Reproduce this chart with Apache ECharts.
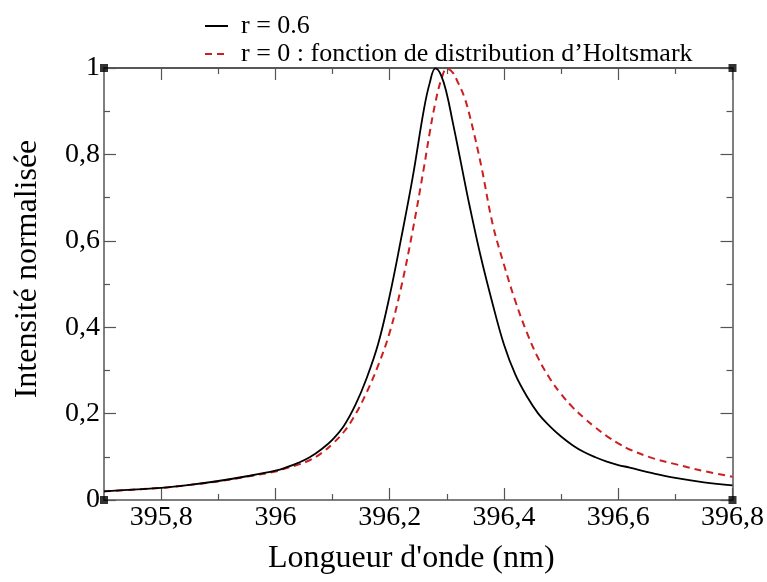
<!DOCTYPE html>
<html>
<head>
<meta charset="utf-8">
<script src="https://cdn.jsdelivr.net/npm/echarts@6/dist/echarts.min.js"></script>
<style>html,body{margin:0;padding:0;background:#fff}#c{width:767px;height:582px}</style>
</head>
<body>
<div id="c"></div>
<script>
// Wavelength (nm)
const wavelengths = [395.70,395.75,395.80,395.85,395.90,395.95,396.00,396.02,396.04,396.06,396.08,396.10,396.12,396.14,396.16,396.18,396.20,396.22,396.24,396.26,396.27,396.28,396.29,396.30,396.31,396.32,396.33,396.34,396.36,396.38,396.40,396.42,396.44,396.46,396.48,396.50,396.52,396.54,396.56,396.58,396.60,396.62,396.66,396.70,396.75,396.80];
// r = 0.6
const intensityR06 = [0.020,0.024,0.028,0.035,0.044,0.055,0.068,0.076,0.086,0.099,0.117,0.140,0.172,0.220,0.283,0.362,0.473,0.605,0.745,0.905,0.965,0.999,0.983,0.940,0.877,0.812,0.745,0.680,0.560,0.455,0.360,0.290,0.240,0.200,0.171,0.147,0.127,0.111,0.099,0.089,0.081,0.075,0.062,0.051,0.041,0.034];
// r = 0 : Holtsmark distribution
const intensityR0 = [0.020,0.024,0.028,0.035,0.043,0.054,0.066,0.074,0.082,0.092,0.108,0.130,0.158,0.198,0.250,0.312,0.388,0.492,0.622,0.770,0.850,0.920,0.972,0.998,0.990,0.965,0.935,0.890,0.775,0.640,0.545,0.460,0.388,0.328,0.282,0.245,0.215,0.190,0.168,0.148,0.131,0.117,0.097,0.083,0.067,0.054];
const xMajorTicks = [395.8,396.0,396.2,396.4,396.6,396.8];
const xMinorTicks = [395.9,396.1,396.3,396.5,396.7];
const corners = [[395.7,0],[395.7,1],[396.8,0],[396.8,1]];
const seriesNames = ['r = 0.6', 'r = 0 : fonction de distribution d\u2019Holtsmark'];

const FONT = 'Liberation Serif';
const fmt = v => String(+(+v).toFixed(2)).replace('.', ',');
const axisCol = '#555';

const chart = echarts.init(document.getElementById('c'), null, {renderer: 'canvas'});
const mkX = (pos, ticks, len, labels, line) => ({
  type: 'value', min: 395.7, max: 396.8, position: pos,
  axisLine: {show: line, lineStyle: {color: pos === 'top' ? '#222' : axisCol, width: 1.5}, onZero: false},
  axisTick: {show: true, inside: true, length: len, customValues: ticks, lineStyle: {color: axisCol, width: 1.2}},
  axisLabel: labels ? {show: true, customValues: ticks, formatter: fmt, fontFamily: FONT, fontSize: 28, color: '#000', margin: 4} : {show: false},
  splitLine: {show: false}
});
const opt = {
  animation: false,
  backgroundColor: '#fff',
  grid: {left: 104, right: 34, top: 68, bottom: 82},
  legend: {
    orient: 'vertical', left: 199, top: 7, itemWidth: 23, itemHeight: 14, itemGap: 0,
    itemStyle: {opacity: 0},
    textStyle: {fontFamily: FONT, fontSize: 26, lineHeight: 28, color: '#000', padding: [0, 0, 0, 8]},
    data: seriesNames
  },
  xAxis: [
    Object.assign(mkX('bottom', xMajorTicks, 12, true, true), {
      name: 'Longueur d\'onde (nm)', nameLocation: 'middle', nameGap: 43,
      nameTextStyle: {fontFamily: FONT, fontSize: 32, color: '#000', padding: [0, 14, 0, 0]}
    }),
    mkX('top', xMajorTicks, 12, false, true),
    mkX('bottom', xMinorTicks, 6, false, false),
    mkX('top', xMinorTicks, 6, false, false)
  ],
  yAxis: [
    {
      type: 'value', min: 0, max: 1, interval: 0.2, position: 'left',
      name: 'Intensité normalisée', nameLocation: 'middle', nameGap: 60,
      nameTextStyle: {fontFamily: FONT, fontSize: 32, color: '#000', padding: [0, 0, 0, 30]},
      axisLine: {show: true, lineStyle: {color: axisCol, width: 1.5}},
      axisTick: {show: true, inside: true, length: 12, lineStyle: {color: axisCol, width: 1.2}},
      minorTick: {show: true, splitNumber: 2, length: 6, lineStyle: {color: axisCol, width: 1.2}},
      axisLabel: {formatter: fmt, fontFamily: FONT, fontSize: 28, color: '#000', margin: 4},
      splitLine: {show: false}
    },
    {
      type: 'value', min: 0, max: 1, interval: 0.2, position: 'right',
      axisLine: {show: true, lineStyle: {color: axisCol, width: 1.5}},
      axisTick: {show: true, inside: true, length: 12, lineStyle: {color: axisCol, width: 1.2}},
      minorTick: {show: true, splitNumber: 2, length: 6, lineStyle: {color: axisCol, width: 1.2}},
      axisLabel: {show: false},
      splitLine: {show: false}
    }
  ],
  series: [
    {
      name: seriesNames[0], type: 'line', smooth: 0.4, showSymbol: false, symbol: 'none',
      data: wavelengths.map((x, i) => [x, intensityR06[i]]),
      lineStyle: {color: '#000', width: 1.8}, itemStyle: {color: '#000'}, z: 3
    },
    {
      name: seriesNames[1], type: 'line', smooth: 0.4, showSymbol: false, symbol: 'none',
      data: wavelengths.map((x, i) => [x, intensityR0[i]]),
      lineStyle: {color: '#cc1f1f', width: 2, type: [7, 5]}, itemStyle: {color: '#cc1f1f'}, z: 2
    },
    {
      type: 'scatter', symbol: 'rect', symbolSize: 8, clip: false, silent: true,
      data: corners, itemStyle: {color: '#000'}, z: 5
    }
  ]
};
chart.setOption(opt);
</script>
</body>
</html>
